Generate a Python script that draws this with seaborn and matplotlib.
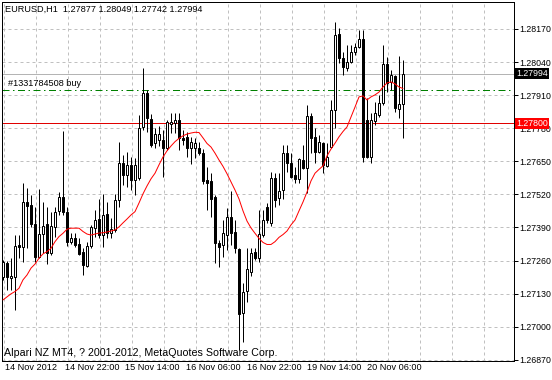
import matplotlib
matplotlib.use("Agg")
import matplotlib.pyplot as plt
import matplotlib.transforms as mtransforms
from matplotlib import font_manager
import numpy as np
import pandas as pd
import seaborn as sns

# ---------------- data ----------------
opens = [1.27195, 1.27250, 1.27191, 1.27195, 1.27321, 1.27313, 1.27490, 1.27478, 1.27404, 1.27274,
         1.27364, 1.27404, 1.27290, 1.27392, 1.27455, 1.27510, 1.27451, 1.27333, 1.27349, 1.27325,
         1.27294, 1.27239, 1.27317, 1.27388, 1.27423, 1.27360, 1.27443, 1.27368, 1.27380, 1.27498,
         1.27643, 1.27596, 1.27636, 1.27577, 1.27584, 1.27785, 1.27919, 1.27816, 1.27722, 1.27734,
         1.27734, 1.27702, 1.27797, 1.27801, 1.27812, 1.27742, 1.27746, 1.27702, 1.27702, 1.27702,
         1.27683, 1.27577, 1.27573, 1.27510, 1.27329, 1.27321, 1.27360, 1.27431, 1.27372, 1.27305,
         1.27054, 1.27140, 1.27215, 1.27294, 1.27270, 1.27360, 1.27470, 1.27408, 1.27584, 1.27506,
         1.27537, 1.27683, 1.27643, 1.27596, 1.27581, 1.27655, 1.27624, 1.27828, 1.27746, 1.27687,
         1.27722, 1.27632, 1.27706, 1.27852, 1.28150, 1.28056, 1.28017, 1.28040, 1.28080, 1.28099,
         1.28131, 1.27812, 1.27667, 1.27808, 1.27832, 1.27879, 1.28032, 1.27962, 1.27985, 1.27856,
         1.27877]
highs = [1.27262, 1.27258, 1.27270, 1.27360, 1.27360, 1.27565, 1.27545, 1.27518, 1.27470, 1.27541,
         1.27490, 1.27470, 1.27451, 1.27470, 1.27529, 1.27769, 1.27470, 1.27368, 1.27368, 1.27349,
         1.27309, 1.27333, 1.27400, 1.27459, 1.27502, 1.27522, 1.27490, 1.27427, 1.27522, 1.27726,
         1.27675, 1.27687, 1.27667, 1.27663, 1.27832, 1.28017, 1.27930, 1.27836, 1.27781, 1.27789,
         1.27773, 1.27812, 1.27840, 1.27840, 1.27840, 1.27773, 1.27765, 1.27746, 1.27742, 1.27726,
         1.27698, 1.27628, 1.27604, 1.27518, 1.27341, 1.27419, 1.27467, 1.27533, 1.27419, 1.27309,
         1.27172, 1.27309, 1.27309, 1.27309, 1.27459, 1.27459, 1.27486, 1.27608, 1.27604, 1.27604,
         1.27714, 1.27714, 1.27683, 1.27628, 1.27663, 1.27714, 1.27871, 1.27840, 1.27781, 1.27753,
         1.27726, 1.27722, 1.27891, 1.28198, 1.28174, 1.28080, 1.28107, 1.28107, 1.28115, 1.28166,
         1.28166, 1.27899, 1.27840, 1.27883, 1.27911, 1.28107, 1.28060, 1.28009, 1.27989, 1.28064,
         1.28049]
lows = [1.27184, 1.27144, 1.27144, 1.27066, 1.27270, 1.27254, 1.27309, 1.27392, 1.27254, 1.27270,
        1.27290, 1.27246, 1.27282, 1.27353, 1.27439, 1.27439, 1.27317, 1.27325, 1.27313, 1.27282,
        1.27203, 1.27235, 1.27309, 1.27353, 1.27349, 1.27313, 1.27349, 1.27349, 1.27372, 1.27470,
        1.27557, 1.27549, 1.27537, 1.27518, 1.27577, 1.27773, 1.27765, 1.27706, 1.27702, 1.27710,
        1.27588, 1.27694, 1.27761, 1.27761, 1.27694, 1.27714, 1.27667, 1.27639, 1.27663, 1.27675,
        1.27561, 1.27459, 1.27431, 1.27250, 1.27235, 1.27274, 1.27301, 1.27321, 1.27290, 1.26908,
        1.26940, 1.27097, 1.27199, 1.27262, 1.27254, 1.27353, 1.27408, 1.27396, 1.27470, 1.27478,
        1.27502, 1.27608, 1.27584, 1.27565, 1.27565, 1.27620, 1.27526, 1.27683, 1.27643, 1.27683,
        1.27604, 1.27628, 1.27702, 1.27781, 1.28036, 1.27989, 1.28005, 1.28036, 1.28068, 1.28095,
        1.27647, 1.27663, 1.27643, 1.27793, 1.27824, 1.27871, 1.27922, 1.27930, 1.27844, 1.27820,
        1.27742]
closes = [1.27254, 1.27195, 1.27199, 1.27317, 1.27313, 1.27490, 1.27474, 1.27404, 1.27274, 1.27364,
          1.27396, 1.27290, 1.27396, 1.27451, 1.27510, 1.27451, 1.27333, 1.27349, 1.27321, 1.27286,
          1.27243, 1.27317, 1.27392, 1.27419, 1.27360, 1.27439, 1.27368, 1.27384, 1.27498, 1.27643,
          1.27596, 1.27636, 1.27577, 1.27636, 1.27781, 1.27919, 1.27820, 1.27714, 1.27757, 1.27757,
          1.27702, 1.27805, 1.27805, 1.27812, 1.27742, 1.27734, 1.27702, 1.27726, 1.27722, 1.27683,
          1.27573, 1.27565, 1.27502, 1.27329, 1.27313, 1.27368, 1.27431, 1.27368, 1.27309, 1.27050,
          1.27136, 1.27227, 1.27290, 1.27270, 1.27364, 1.27419, 1.27419, 1.27584, 1.27498, 1.27533,
          1.27683, 1.27643, 1.27588, 1.27581, 1.27659, 1.27624, 1.27828, 1.27742, 1.27687, 1.27726,
          1.27636, 1.27667, 1.27852, 1.28146, 1.28056, 1.28021, 1.28040, 1.28080, 1.28099, 1.28131,
          1.27667, 1.27667, 1.27812, 1.27840, 1.27879, 1.28032, 1.27958, 1.27989, 1.27860, 1.27875,
          1.27994]
ma_values = [1.27105, 1.27117, 1.27129, 1.27138, 1.27151, 1.27184, 1.27203, 1.27230, 1.27246, 1.27269,
             1.27286, 1.27295, 1.27308, 1.27334, 1.27354, 1.27367, 1.27383, 1.27387, 1.27387, 1.27387,
             1.27374, 1.27364, 1.27360, 1.27364, 1.27368, 1.27369, 1.27372, 1.27376, 1.27380, 1.27392,
             1.27408, 1.27423, 1.27439, 1.27452, 1.27486, 1.27522, 1.27553, 1.27581, 1.27603, 1.27636,
             1.27667, 1.27691, 1.27710, 1.27727, 1.27740, 1.27750, 1.27757, 1.27761, 1.27764, 1.27763,
             1.27742, 1.27720, 1.27706, 1.27682, 1.27655, 1.27630, 1.27601, 1.27569, 1.27537, 1.27502,
             1.27455, 1.27415, 1.27388, 1.27367, 1.27347, 1.27331, 1.27323, 1.27323, 1.27334, 1.27351,
             1.27362, 1.27376, 1.27400, 1.27419, 1.27455, 1.27490, 1.27529, 1.27573, 1.27603, 1.27618,
             1.27632, 1.27671, 1.27698, 1.27721, 1.27746, 1.27767, 1.27785, 1.27824, 1.27863, 1.27903,
             1.27907, 1.27891, 1.27903, 1.27911, 1.27922, 1.27942, 1.27958, 1.27962, 1.27954, 1.27942,
             1.27936]

y_ticks = [1.28170, 1.28040, 1.27910, 1.27780, 1.27650, 1.27520, 1.27390, 1.27260, 1.27130, 1.27000, 1.26870]
x_tick_bars = [0.08, 15.08, 30.25, 45.5, 60.7, 75.75, 90.75]
x_tick_labels = ["14 Nov 2012", "14 Nov 22:00", "15 Nov 14:00", "16 Nov 06:00",
                 "16 Nov 22:00", "19 Nov 14:00", "20 Nov 06:00"]
bid_price = 1.27994
stop_price = 1.27800
order_price = 1.27930
order_label = "#1331784508 buy"
title_text = "EURUSD,H1  1.27877 1.28049 1.27742 1.27994"
footer_text = "Alpari NZ MT4, ? 2001-2012, MetaQuotes Software Corp."

# ---------------- style ----------------
sns.set_style("white")
installed = {f.name for f in font_manager.fontManager.ttflist}
REG = ['Liberation Sans', 'DejaVu Sans']
if "Liberation Sans Narrow" in installed:
    NAR = ['Liberation Sans Narrow', 'Liberation Sans', 'DejaVu Sans']
    FS_NUM, FS_TITLE, FS_ORDER = 7.5, 7.8, 7.9
else:
    NAR = REG
    FS_NUM, FS_TITLE, FS_ORDER = 6.3, 6.6, 6.6
FS_X, FS_FOOT = 6.6, 7.7
plt.rcParams['font.family'] = REG
PX = 0.72  # one pixel in points at 100 dpi

W, H = 552, 380
fig = plt.figure(figsize=(W / 100, H / 100), dpi=100)
fig.patch.set_facecolor("white")
ax = fig.add_axes([2 / W, (H - 361) / H, 512 / W, 359 / H])
ax.set_facecolor("white")

df = pd.DataFrame({"bar": np.arange(len(closes)), "open": opens, "high": highs,
                   "low": lows, "close": closes, "ma": ma_values})

ax.set_xlim(-0.25, 127.75)
ax.set_ylim(1.26865, 1.28276)

# grid
grid_kw = dict(color="#C0C0C0", lw=PX, ls=(0, (3, 3)), zorder=0.5)
for yt in y_ticks:
    ax.axhline(yt, **grid_kw)
for k in range(16):
    ax.axvline(0.2 + 8 * k, **grid_kw)

# horizontal reference lines
ax.axhline(bid_price, color="#B4B4B4", lw=PX, zorder=1)
ax.axhline(stop_price, color="#E00000", lw=PX, zorder=1)
ax.axhline(order_price, color="#008000", lw=PX, ls=(0, (7, 3.5, 1.5, 3.5)), zorder=1)

# candles: wicks then bodies
ax.vlines(df["bar"], df["low"], df["high"], color="black", lw=PX, zorder=2)
bull = df["close"] >= df["open"]
body_bottom = np.minimum(df["open"], df["close"])
body_height = np.maximum(np.abs(df["close"] - df["open"]), 0.000015)
ax.bar(df["bar"][bull], body_height[bull], bottom=body_bottom[bull], width=0.5,
       color="white", edgecolor="black", linewidth=PX, zorder=3)
ax.bar(df["bar"][~bull], body_height[~bull], bottom=body_bottom[~bull], width=0.5,
       color="black", edgecolor="black", linewidth=PX, zorder=3)

# moving average
sns.lineplot(data=df, x="bar", y="ma", color="red", lw=PX, ax=ax, zorder=4)
ax.set_xlabel("")
ax.set_ylabel("")

# axes frame
for s in ax.spines.values():
    s.set_visible(True)
    s.set_color("black")
    s.set_linewidth(PX)

# y axis on the right
ax.yaxis.tick_right()
ax.set_yticks(y_ticks)
ax.set_yticklabels([f"{v:.5f}" for v in y_ticks])
ax.tick_params(axis="y", direction="out", length=3, width=PX, pad=1.0, colors="black")
for lab in ax.get_yticklabels():
    lab.set_fontfamily(NAR)
    lab.set_fontsize(FS_NUM)

# x axis
ax.set_xticks(x_tick_bars)
ax.set_xticklabels(x_tick_labels)
ax.tick_params(axis="x", direction="out", length=5, width=PX, pad=-3.8, colors="black")
shift = mtransforms.ScaledTranslation(1.2 / 100, 0, fig.dpi_scale_trans)
for lab in ax.get_xticklabels():
    lab.set_fontsize(FS_X)
    lab.set_horizontalalignment("left")
    lab.set_transform(lab.get_transform() + shift)

# price boxes on the right axis
trans = mtransforms.blended_transform_factory(ax.transAxes, ax.transData)
ax.text(1.0045, bid_price, f"{bid_price:.5f}", transform=trans, ha="left", va="center",
        fontsize=FS_NUM, family=NAR, color="white", clip_on=False, zorder=10,
        bbox=dict(boxstyle="square,pad=0.12", fc="black", ec="none"))
ax.text(1.0045, stop_price, f"{stop_price:.5f}", transform=trans, ha="left", va="center",
        fontsize=FS_NUM, family=NAR, color="white", clip_on=False, zorder=10,
        bbox=dict(boxstyle="square,pad=0.12", fc="#FF0000", ec="none"))

# texts
fig.text(5 / W, 1 - 9 / H, title_text, fontsize=FS_TITLE, family=NAR,
         ha="left", va="center", color="black")
fig.text(8 / W, 1 - 84 / H, order_label, fontsize=FS_ORDER, family=NAR,
         ha="left", va="center", color="black")
fig.text(4 / W, 1 - 353 / H, footer_text, fontsize=FS_FOOT,
         ha="left", va="center", color="black")

fig.savefig("out.png", dpi=100, facecolor="white")
